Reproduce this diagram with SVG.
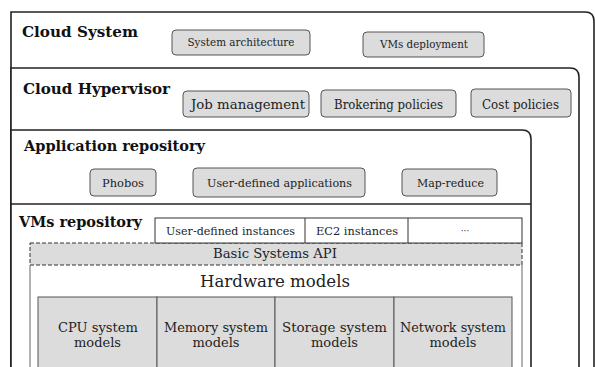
<svg xmlns="http://www.w3.org/2000/svg" width="595" height="367" viewBox="0 0 595 367">
<style>
.frame{fill:#fff;stroke:#222;stroke-width:1.6}
.btn{fill:#dcdcdc;stroke:#555;stroke-width:1}
.cell{fill:#dcdcdc;stroke:#555;stroke-width:1}
.title{font-family:"DejaVu Serif",serif;font-weight:bold;font-size:14px;fill:#111}
.lbl{font-family:"DejaVu Serif",serif;fill:#222;text-anchor:middle}
</style>
<rect width="595" height="367" fill="#fff"/>
<g id="cloud-system">
<path class="frame" d="M11 400 V12 H585 Q594 12 594 21 V400"/>
<text class="title" x="22" y="37" textLength="116" lengthAdjust="spacingAndGlyphs">Cloud System</text>
</g>
<g id="system-architecture">
<rect class="btn" x="172" y="30" width="138" height="25" rx="4"/>
<text class="lbl" x="241" y="46" font-size="10.5" textLength="107" lengthAdjust="spacingAndGlyphs">System architecture</text>
</g>
<g id="vms-deployment">
<rect class="btn" x="363" y="32" width="121" height="25" rx="4"/>
<text class="lbl" x="424" y="48" font-size="10.5" textLength="88" lengthAdjust="spacingAndGlyphs">VMs deployment</text>
</g>
<g id="cloud-hypervisor">
<path class="frame" d="M11 400 V68 H570 Q579 68 579 77 V400"/>
<text class="title" x="23" y="94" textLength="147" lengthAdjust="spacingAndGlyphs">Cloud Hypervisor</text>
</g>
<g id="job-management">
<rect class="btn" x="183" y="91" width="126" height="26" rx="4"/>
<text class="lbl" x="248" y="109" font-size="12.5" textLength="114" lengthAdjust="spacingAndGlyphs">Job management</text>
</g>
<g id="brokering-policies">
<rect class="btn" x="321" y="90" width="135" height="27" rx="4"/>
<text class="lbl" x="388.5" y="109" font-size="12.5" textLength="109" lengthAdjust="spacingAndGlyphs">Brokering policies</text>
</g>
<g id="cost-policies">
<rect class="btn" x="471" y="89" width="100" height="28" rx="4"/>
<text class="lbl" x="520.5" y="109" font-size="12.5" textLength="77" lengthAdjust="spacingAndGlyphs">Cost policies</text>
</g>
<g id="application-repository">
<path class="frame" d="M11 400 V130 H522 Q531 130 531 139 V400"/>
<text class="title" x="24" y="151" textLength="181" lengthAdjust="spacingAndGlyphs">Application repository</text>
</g>
<g id="phobos">
<rect class="btn" x="90" y="169" width="66" height="27" rx="4"/>
<text class="lbl" x="123" y="187" font-size="11.5" textLength="42" lengthAdjust="spacingAndGlyphs">Phobos</text>
</g>
<g id="user-defined-applications">
<rect class="btn" x="193" y="168" width="172" height="29" rx="4"/>
<text class="lbl" x="279.5" y="187" font-size="11.5" textLength="145" lengthAdjust="spacingAndGlyphs">User-defined applications</text>
</g>
<g id="map-reduce">
<rect class="btn" x="402" y="169" width="95" height="27" rx="4"/>
<text class="lbl" x="450.5" y="187" font-size="11.5" textLength="67" lengthAdjust="spacingAndGlyphs">Map-reduce</text>
</g>
<g id="vms-repository">
<line x1="11" y1="204" x2="531" y2="204" stroke="#222" stroke-width="1.6"/>
<text class="title" x="19" y="227" textLength="123" lengthAdjust="spacingAndGlyphs">VMs repository</text>
</g>
<g id="basic-systems-api">
<rect x="30" y="243" width="492" height="22" fill="#dcdcdc" stroke="#333" stroke-width="1" stroke-dasharray="4,2"/>
<text class="lbl" x="275" y="258" font-size="12" textLength="124" lengthAdjust="spacingAndGlyphs">Basic Systems API</text>
</g>
<g id="instances">
<rect x="155" y="218" width="367" height="25" fill="#fff" stroke="#333" stroke-width="1"/>
<line x1="305" y1="218" x2="305" y2="243" stroke="#333" stroke-width="1"/>
<line x1="408" y1="218" x2="408" y2="243" stroke="#333" stroke-width="1"/>
<text class="lbl" x="230.5" y="235" font-size="11" textLength="129" lengthAdjust="spacingAndGlyphs">User-defined instances</text>
<text class="lbl" x="357" y="235" font-size="11" textLength="82" lengthAdjust="spacingAndGlyphs">EC2 instances</text>
<text class="lbl" x="465" y="234" font-size="9" fill="#666">···</text>
</g>
<g id="hardware-models">
<line x1="30" y1="265" x2="30" y2="367" stroke="#666" stroke-width="1"/>
<line x1="522" y1="265" x2="522" y2="367" stroke="#666" stroke-width="1"/>
<text class="lbl" x="275" y="287" font-size="17" textLength="150" lengthAdjust="spacingAndGlyphs">Hardware models</text>
</g>
<g id="cpu-models">
<rect class="cell" x="38" y="297" width="119" height="90"/>
<text class="lbl" x="98" y="332" font-size="12" textLength="80" lengthAdjust="spacingAndGlyphs">CPU system</text>
<text class="lbl" x="97.5" y="347" font-size="12" textLength="47" lengthAdjust="spacingAndGlyphs">models</text>
</g>
<g id="memory-models">
<rect class="cell" x="157" y="297" width="118" height="90"/>
<text class="lbl" x="216" y="332" font-size="12" textLength="104" lengthAdjust="spacingAndGlyphs">Memory system</text>
<text class="lbl" x="216" y="347" font-size="12" textLength="47" lengthAdjust="spacingAndGlyphs">models</text>
</g>
<g id="storage-models">
<rect class="cell" x="275" y="297" width="119" height="90"/>
<text class="lbl" x="334.5" y="332" font-size="12" textLength="105" lengthAdjust="spacingAndGlyphs">Storage system</text>
<text class="lbl" x="334.5" y="347" font-size="12" textLength="47" lengthAdjust="spacingAndGlyphs">models</text>
</g>
<g id="network-models">
<rect class="cell" x="394" y="297" width="118" height="90"/>
<text class="lbl" x="453" y="332" font-size="12" textLength="106" lengthAdjust="spacingAndGlyphs">Network system</text>
<text class="lbl" x="453" y="347" font-size="12" textLength="47" lengthAdjust="spacingAndGlyphs">models</text>
</g>
</svg>
